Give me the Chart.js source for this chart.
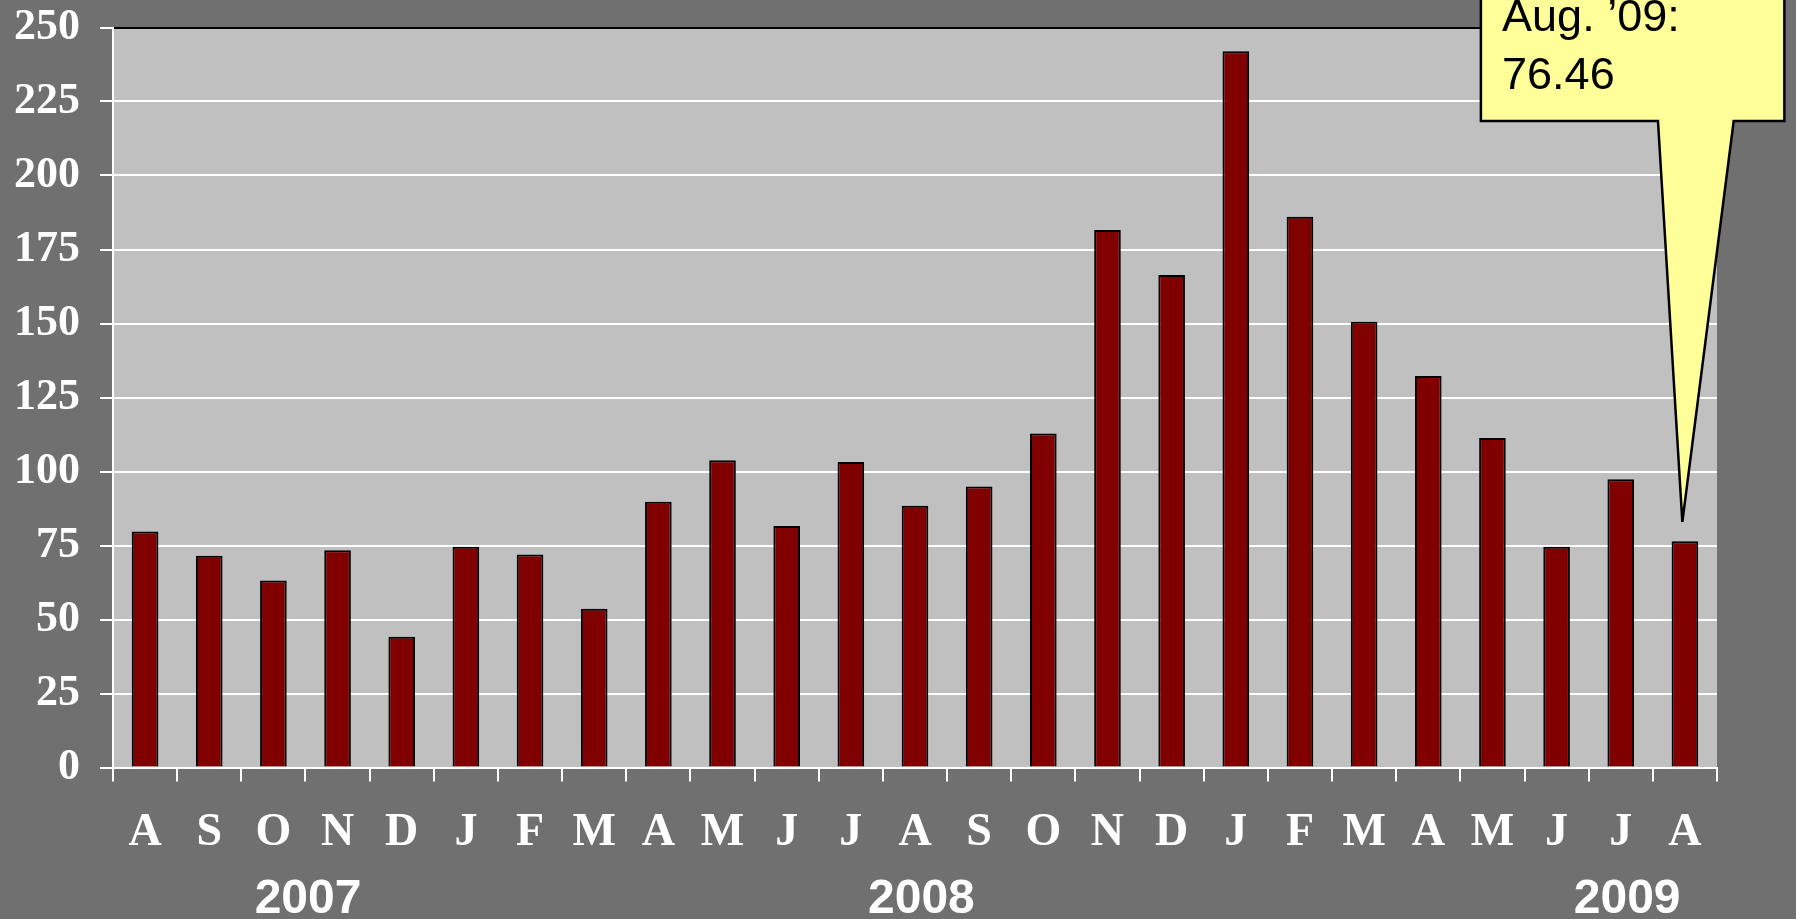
<!DOCTYPE html>
<html>
<head>
<meta charset="utf-8">
<script src="https://cdn.jsdelivr.net/npm/chart.js@4.4.1/dist/chart.umd.min.js"></script>
<style>
  html, body { margin: 0; padding: 0; background: #707070; overflow: hidden; }
  canvas { display: block; }
</style>
</head>
<body>
<canvas id="c" width="1796" height="919"></canvas>
<script>
// ---- Data ----
const months = ['A','S','O','N','D','J','F','M','A','M','J','J','A','S','O','N','D','J','F','M','A','M','J','J','A'];
const values = [79.7, 71.5, 63.2, 73.4, 44.2, 74.6, 72.0, 53.6, 89.8, 103.8, 81.6, 103.2, 88.4, 94.9, 112.8, 181.6, 166.4, 242.0, 186.1, 150.6, 132.3, 111.3, 74.6, 97.4, 76.46];
const yMin = 0, yMax = 250, yStep = 25;
const yearLabels = ['2007', '2008', '2009'];
const calloutLines = ['Aug. \u201909:', '76.46'];

const SERIF = '"Times New Roman", "Liberation Serif", serif';
const SANS = 'Arial, "Liberation Sans", sans-serif';

const deco = {
  id: 'deco',
  beforeDraw(chart) {
    const { ctx, chartArea: a } = chart;
    ctx.save();
    ctx.fillStyle = '#707070';
    ctx.fillRect(0, 0, chart.width, chart.height);
    ctx.fillStyle = '#C0C0C0';
    ctx.fillRect(a.left, a.top, a.right - a.left, a.bottom - a.top);
    ctx.restore();
  },
  afterDraw(chart, args, opts) {
    const { ctx } = chart;
    const xs = chart.scales.x, ys = chart.scales.y;
    ctx.save();
    // year labels
    ctx.fillStyle = '#ffffff';
    ctx.font = 'bold 48px ' + SANS;
    ctx.textAlign = 'center';
    ctx.textBaseline = 'middle';
    yearLabels.forEach((t, i) => {
      ctx.fillText(t, xs.getPixelForValue(opts.yearPos[i]), xs.top + opts.yearOffset);
    });
    // callout
    const c = opts.callout;
    const L = xs.getPixelForValue(c.boxLeft), R = xs.getPixelForValue(c.boxRight);
    const B = ys.getPixelForValue(c.boxBottom), T = -20;
    const bl = xs.getPixelForValue(c.baseLeft), br = xs.getPixelForValue(c.baseRight);
    const tx = xs.getPixelForValue(c.tipX), ty = ys.getPixelForValue(c.tipY);
    ctx.beginPath();
    ctx.moveTo(L, T);
    ctx.lineTo(R, T);
    ctx.lineTo(R, B);
    ctx.lineTo(br, B);
    ctx.lineTo(tx, ty);
    ctx.lineTo(bl, B);
    ctx.lineTo(L, B);
    ctx.closePath();
    ctx.fillStyle = '#FFFF99';
    ctx.fill();
    ctx.lineWidth = 2.5;
    ctx.strokeStyle = '#000000';
    ctx.lineJoin = 'miter';
    ctx.stroke();
    ctx.fillStyle = '#000000';
    ctx.font = '45px ' + SANS;
    ctx.textAlign = 'left';
    ctx.textBaseline = 'alphabetic';
    const textX = xs.getPixelForValue(c.textX);
    calloutLines.forEach((t, i) => ctx.fillText(t, textX, c.firstBaseline + i * c.lineGap));
    ctx.restore();
  }
};

new Chart(document.getElementById('c'), {
  type: 'bar',
  data: {
    labels: months,
    datasets: [{
      data: values,
      backgroundColor: '#800000',
      borderColor: '#000000',
      borderWidth: 2,
      borderSkipped: 'start',
      barPercentage: 0.415,
      categoryPercentage: 1.0
    }]
  },
  options: {
    responsive: false,
    animation: false,
    devicePixelRatio: 1,
    layout: { padding: { left: 0, right: 79, top: 27.5, bottom: 0 } },
    plugins: {
      legend: { display: false },
      tooltip: { enabled: false },
      deco: {
        yearPos: [2.54, 12.1, 23.1],
        yearOffset: 132.5,
        callout: {
          boxLeft: 20.82, boxRight: 25.55, boxBottom: 218.4,
          baseLeft: 23.58, baseRight: 24.76,
          tipX: 23.96, tipY: 83,
          textX: 21.15, firstBaseline: 31, lineGap: 57.5
        }
      }
    },
    scales: {
      x: {
        offset: true,
        afterFit(s) { s.height = 151.5; s.paddingLeft = 0; s.paddingRight = 0; },
        grid: {
          offset: true,
          drawOnChartArea: true,
          drawTicks: true,
          tickLength: 14,
          lineWidth: 2,
          color: (ctx) => ctx.index === months.length ? '#1a1a1a' : 'rgba(0,0,0,0)',
          tickColor: '#ffffff'
        },
        border: { display: true, color: '#ffffff', width: 2 },
        ticks: {
          color: '#ffffff',
          font: { family: SERIF, size: 46, weight: 'bold' },
          padding: 24,
          maxRotation: 0,
          autoSkip: false
        }
      },
      y: {
        min: yMin,
        max: yMax,
        afterFit(s) { s.width = 113; s.paddingTop = 0; s.paddingBottom = 0; },
        grid: {
          drawTicks: true,
          tickLength: 13,
          lineWidth: 2,
          color: (ctx) => ctx.tick && ctx.tick.value === yMax ? '#000000' : '#ffffff',
          tickColor: '#ffffff'
        },
        border: { display: true, color: '#ffffff', width: 2 },
        ticks: {
          stepSize: yStep,
          color: '#ffffff',
          font: { family: SERIF, size: 44, weight: 'bold' },
          padding: 20
        }
      }
    }
  },
  plugins: [deco]
});
</script>
</body>
</html>
